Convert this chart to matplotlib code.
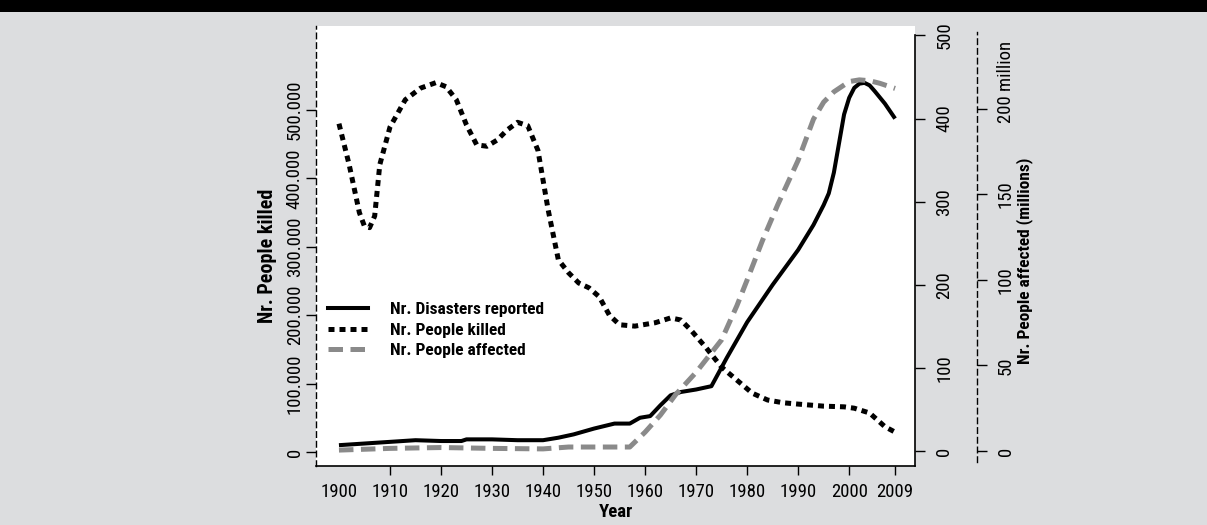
import matplotlib
matplotlib.use("Agg")
import matplotlib.pyplot as plt
from matplotlib import font_manager
from matplotlib.font_manager import FontProperties
from matplotlib.lines import Line2D
from matplotlib.patches import Rectangle

# ---------------- data ----------------
years_dis = [1900, 1905, 1910, 1915, 1920, 1924, 1925, 1930, 1935, 1940,
             1943, 1946, 1950, 1954, 1957, 1959, 1961, 1963, 1965, 1967,
             1970, 1973, 1976, 1980, 1985, 1990, 1993, 1995, 1996, 1997,
             1998, 1999, 2000, 2001, 2002, 2003, 2004, 2005, 2007, 2009]
disasters = [7, 9, 11, 13, 12, 12, 14, 14, 13, 13,
             16, 20, 27, 33, 33, 40, 42, 55, 67, 71,
             74, 78, 112, 155, 200, 242, 272, 296, 310, 335,
             370, 405, 425, 437, 442, 443, 440, 433, 418, 400]

years_kill = [1900, 1902, 1904, 1905, 1906, 1907, 1908, 1910, 1913, 1916,
              1919, 1921, 1923, 1925, 1927, 1929, 1931, 1933, 1935, 1937,
              1939, 1941, 1943, 1945, 1947, 1949, 1951, 1953, 1955, 1958,
              1962, 1965, 1967, 1969, 1972, 1975, 1978, 1981, 1984, 1987,
              1990, 1995, 1999, 2001, 2004, 2007, 2009]
killed = [480000, 420000, 350000, 330000, 328000, 345000, 420000, 475000, 515000, 532000,
          540000, 534000, 515000, 478000, 449000, 447000, 456000, 471000, 482000, 477000,
          441000, 354000, 281000, 262000, 247000, 240000, 227000, 200000, 186000, 184000,
          189000, 196000, 193000, 178000, 152000, 124000, 105000, 86000, 76000, 72000,
          70000, 67000, 66000, 64000, 57000, 37000, 29000]

years_aff = [1900, 1910, 1920, 1930, 1940, 1945, 1950, 1957, 1960, 1963,
             1966, 1970, 1975, 1978, 1980, 1983, 1986, 1990, 1993, 1995,
             1997, 2000, 2002, 2004, 2006, 2009]
affected = [0.5, 1.5, 2.0, 1.5, 1.2, 2.3, 2.3, 2.3, 11, 21,
            33, 46, 65, 85, 100, 123, 144, 170, 194, 204,
            210, 216, 217, 216.5, 215, 212]

year_ticks = [1900, 1910, 1920, 1930, 1940, 1950, 1960, 1970, 1980, 1990, 2000, 2009]
year_labels = ["1900", "1910", "1920", "1930", "1940", "1950", "1960", "1970",
               "1980", "1990", "2000", "2009"]
kill_ticks = [0, 100000, 200000, 300000, 400000, 500000]
kill_labels = ["0", "100.000", "200.000", "300.000", "400.000", "500.000"]
dis_ticks = [0, 100, 200, 300, 400, 500]
dis_labels = ["0", "100", "200", "300", "400", "500"]
aff_ticks = [0, 50, 100, 150, 200]
aff_labels = ["0", "50", "100", "150", "200"]
aff_top_label = "200 million"

series_names = ["Nr. Disasters reported", "Nr. People killed", "Nr. People affected"]

# ---------------- fonts: prefer a condensed sans ----------------
COND = ("condensed", "semi-condensed", "extra-condensed", "ultra-condensed")


def _is_condensed(f):
    n = f.name.lower()
    fn = f.fname.lower()
    st = f.stretch
    if isinstance(st, str) and st in COND:
        return True
    if isinstance(st, (int, float)) and st < 500:
        return True
    return ("narrow" in n or "condensed" in n or "narrow" in fn or "condensed" in fn)


def _rank(f):
    n = f.name.lower()
    fn = f.fname.lower()
    r = 50
    if "liberation" in n and "narrow" in n:
        r = 0
    elif "roboto" in n:
        r = 1
    elif "noto sans" in n and "cjk" not in n and "mono" not in n:
        r = 2
    elif "open sans" in n:
        r = 3
    elif "dejavu sans" in n and "mono" not in n:
        r = 4
    if "semi" in fn or "extra" in fn or "ultra" in fn:
        r += 10
    if "italic" in fn or "oblique" in fn or f.style != "normal":
        r += 100
    if "mono" in n or "serif" in n or "cjk" in n:
        r += 100
    return r


cands = [f for f in font_manager.fontManager.ttflist if _is_condensed(f)]
cands.sort(key=_rank)
if cands and _rank(cands[0]) < 100:
    best = cands[0]
    FONT = best.name
    plt.rcParams["font.stretch"] = best.stretch if not isinstance(best.stretch, str) or best.stretch in COND else "condensed"
    SC = 1.0
else:
    FONT = "Liberation Sans"
    SC = 0.84
plt.rcParams["font.family"] = [FONT, "DejaVu Sans"]

TS = 13.5 * SC      # tick labels
XS = 13.5 * SC      # x label
LSL = 14.5 * SC     # left axis label
LSR = 12.5 * SC     # right axis label
GS = 12.5 * SC      # legend

BG = "#dcdddf"
GREY = "#8a8a8a"
W, H = 1207, 525
fig = plt.figure(figsize=(W / 100, H / 100), dpi=100, facecolor=BG)
fig.patches.append(Rectangle((0, 1 - 12 / H), 1, 12 / H, transform=fig.transFigure,
                             facecolor="black", edgecolor="none", zorder=0))

px_l, px_r, px_t, px_b = 316, 915, 26, 466
ax = fig.add_axes([px_l / W, 1 - px_b / H, (px_r - px_l) / W, (px_b - px_t) / H])
ax.set_facecolor("white")
ax2 = ax.twinx()
ax3 = ax.twinx()

ax.set_xlim(1895.5, 2012.9)
ax.set_ylim(-20500, 622800)
ax2.set_ylim(-18.05, 511.4)
ax3.set_ylim(-8.8, 248.5)

# ---------------- lines ----------------
lw = 3.6
l_dis, = ax2.plot(years_dis, disasters, color="black", lw=2.9, solid_joinstyle="round",
                  solid_capstyle="butt", zorder=3)
l_kill, = ax.plot(years_kill, killed, color="black", lw=lw, dash_capstyle="butt",
                  zorder=3)
l_kill.set_dashes((1.2, 1.0))
l_aff, = ax3.plot(years_aff, affected, color=GREY, lw=lw, dash_capstyle="butt", zorder=2)
l_aff.set_dashes((2.9, 1.5))

# ---------------- spines ----------------
for a in (ax, ax2, ax3):
    a.spines["top"].set_visible(False)
ax.spines["right"].set_visible(False)
ax.spines["left"].set_linestyle((0, (4, 3)))
ax.spines["left"].set_linewidth(1.0)
ax.spines["bottom"].set_linewidth(1.2)
for s in ("left", "bottom"):
    ax2.spines[s].set_visible(False)
    ax3.spines[s].set_visible(False)
ax2.spines["right"].set_linewidth(1.2)
ax2.spines["right"].set_bounds(-18.05, 500)
aff_pos = (977 - px_l) / (px_r - px_l)
ax3.spines["right"].set_position(("axes", aff_pos))
ax3.spines["right"].set_linestyle((0, (4, 3)))
ax3.spines["right"].set_linewidth(1.0)
ax3.spines["right"].set_bounds(-6.4, 245)

# x axis
ax.set_xticks(year_ticks)
ax.set_xticklabels(year_labels, fontsize=TS)
ax.tick_params(axis="x", direction="out", length=6.5, width=1.0, pad=5.5)
ax.xaxis.get_major_ticks()[0].tick1line.set_visible(False)

# left axis
ax.set_yticks(kill_ticks)
ax.set_yticklabels(kill_labels, fontsize=TS, rotation=90, va="center")
ax.tick_params(axis="y", direction="out", length=7.2, width=1.0, pad=1.5)

# right axis (disasters)
ax2.set_yticks(dis_ticks)
ax2.set_yticklabels(dis_labels, fontsize=TS, rotation=90, va="center")
ax2.tick_params(axis="y", direction="out", length=7.2, width=1.0, pad=7.5)

# far right axis (affected); top label "200 million" starts with "200" at its tick
ax3.set_yticks(aff_ticks)
ax3.set_yticklabels(aff_labels[:-1] + [""], fontsize=TS, rotation=90, va="center")
ax3.tick_params(axis="y", direction="out", length=7.2, width=1.0, pad=7.2)
renderer = fig.canvas.get_renderer()
w200, _, _ = renderer.get_text_width_height_descent(
    aff_labels[-1], FontProperties(family=[FONT, "DejaVu Sans"], size=TS), ismath=False)
ax3.annotate(aff_top_label, xy=(aff_pos, aff_ticks[-1]),
             xycoords=("axes fraction", "data"), xytext=(14.4, -w200 / 2 * 0.72),
             textcoords="offset points", rotation=90, ha="left", va="bottom",
             fontsize=TS)

# axis labels
ax.set_xlabel("Year", fontsize=XS, fontweight="bold")
ax.xaxis.set_label_coords(0.5, (px_b - 512) / (px_b - px_t))
ax.xaxis.label.set_va("center")
ax.set_ylabel("Nr. People killed", fontsize=LSL, fontweight="bold")
ax.yaxis.set_label_coords((268 - px_l) / (px_r - px_l), (px_b - 256) / (px_b - px_t))
ax.yaxis.label.set_va("center")
ax3.set_ylabel("Nr. People affected (millions)", fontsize=LSR, fontweight="bold", rotation=90)
ax3.yaxis.set_label_coords((1025 - px_l) / (px_r - px_l), (px_b - 261) / (px_b - px_t))
ax3.yaxis.label.set_va("center")

# legend
h_dis = Line2D([], [], color="black", lw=2.9)
h_kill = Line2D([], [], color="black", lw=lw, dash_capstyle="butt")
h_kill.set_dashes((1.2, 1.0))
h_aff = Line2D([], [], color=GREY, lw=lw, dash_capstyle="butt")
h_aff.set_dashes((2.9, 1.5))
gpx = GS * 100 / 72
leg = ax3.legend([h_dis, h_kill, h_aff], series_names, loc="center left",
                 bbox_to_anchor=(328 / W, 1 - 330 / H), bbox_transform=fig.transFigure,
                 frameon=False, borderpad=0, borderaxespad=0, handlelength=40 / gpx,
                 handletextpad=22 / gpx, labelspacing=0.32,
                 prop={"family": [FONT, "DejaVu Sans"], "weight": "bold", "size": GS})

fig.savefig("out.png", dpi=100, facecolor=BG)
